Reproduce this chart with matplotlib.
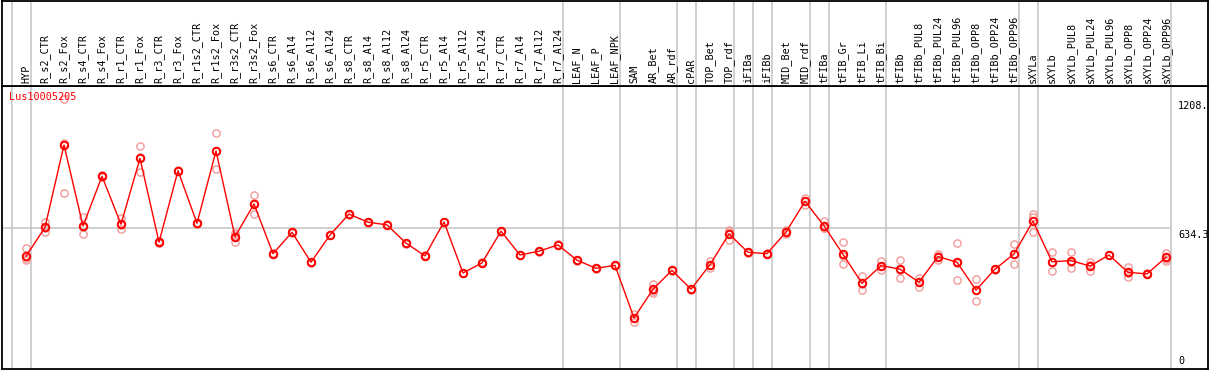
import matplotlib

matplotlib.use("Agg")
import matplotlib.pyplot as plt
import matplotlib.transforms as mtransforms

plt.rcParams["font.family"] = ["DejaVu Sans Mono"]

W, H = 1209, 370

gene = "Lus10005205"

samples = [
    "HYP", "R_s2_CTR", "R_s2_Fox", "R_s4_CTR", "R_s4_Fox", "R_r1_CTR", "R_r1_Fox",
    "R_r3_CTR", "R_r3_Fox", "R_r1s2_CTR", "R_r1s2_Fox", "R_r3s2_CTR", "R_r3s2_Fox",
    "R_s6_CTR", "R_s6_Al4", "R_s6_Al12", "R_s6_Al24", "R_s8_CTR", "R_s8_Al4",
    "R_s8_Al12", "R_s8_Al24", "R_r5_CTR", "R_r5_Al4", "R_r5_Al12", "R_r5_Al24",
    "R_r7_CTR", "R_r7_Al4", "R_r7_Al12", "R_r7_Al24", "LEAF_N", "LEAF_P", "LEAF_NPK",
    "SAM", "AR_Bet", "AR_rdf", "cPAR", "TOP_Bet", "TOP_rdf", "iFIBa", "iFIBb",
    "MID_Bet", "MID_rdf", "tFIBa", "tFIB_Gr", "tFIB_Li", "tFIB_Bi", "tFIBb",
    "tFIBb_PUL8", "tFIBb_PUL24", "tFIBb_PUL96", "tFIBb_OPP8", "tFIBb_OPP24",
    "tFIBb_OPP96", "sXYLa", "sXYLb", "sXYLb_PUL8", "sXYLb_PUL24", "sXYLb_PUL96",
    "sXYLb_OPP8", "sXYLb_OPP24", "sXYLb_OPP96",
]

means = [
    508, 637, 1003, 643, 864, 651, 944, 571, 889, 655, 977, 595, 741,
    520, 615, 482, 603, 696, 660, 648, 567, 510, 661, 434, 479,
    620, 514, 531, 559, 491, 455, 468,
    234, 362, 446, 362, 471, 608, 526, 520, 616, 753,
    644, 517, 388, 467, 451, 393, 507, 482, 358, 451, 519,
    665, 484, 489, 465, 514, 437, 430, 504,
]

replicates = [
    [544, 499, 492], [660, 618, 634], [1208, 1012, 788], [684, 606, 638],
    [868, 860, 864], [677, 628, 646], [999, 885, 949], [578, 566, 569],
    [892, 886, 889], [658, 652, 655], [1057, 895, 978], [611, 573, 602],
    [781, 696, 745], [522, 518, 520], [617, 613, 615], [484, 480, 482],
    [605, 601, 603], [698, 694, 696], [662, 658, 660], [650, 646, 648],
    [569, 565, 567], [512, 508, 510], [663, 659, 661], [436, 432, 434],
    [481, 477, 479], [622, 618, 620], [516, 512, 514], [533, 529, 531],
    [561, 557, 559], [493, 489, 491], [457, 453, 455], [470, 466, 468],
    [252, 215, 235], [384, 345, 356], [448, 444, 446], [364, 360, 362],
    [487, 458, 468], [625, 581, 617], [528, 524, 526], [522, 518, 520],
    [625, 606, 618], [769, 736, 754], [665, 636, 632], [571, 473, 508],
    [421, 358, 386], [489, 447, 463], [492, 411, 449], [411, 373, 394],
    [517, 492, 511], [566, 402, 477], [406, 310, 360], [453, 449, 451],
    [563, 474, 518], [695, 684, 615], [526, 444, 483], [526, 455, 485],
    [483, 443, 470], [516, 512, 514], [462, 415, 434], [432, 428, 430],
    [524, 489, 498],
]

# last sample index of each block (vertical separators)
group_ends = [-1, 0, 28, 31, 34, 35, 37, 38, 39, 41, 42, 45, 52, 53, 60]

ref_value = 634.3
ytick_vals = [1208, 634.3]
ytick_labels = ["1208.", "634.3"]


def px_x(p):
    return (p - 26) / 19.0


def px_v(p):
    return (370.6 - p) * 4.447


fig = plt.figure(figsize=(W / 100, H / 100), dpi=100)
fig.patch.set_facecolor("white")

left, right = 1.5, 1207.5
top, sep, bottom = 0.75, 85.5, 369.0

ax = fig.add_axes([left / W, (H - bottom) / H, (right - left) / W, (bottom - sep) / H])
axh = fig.add_axes([left / W, (H - sep) / H, (right - left) / W, (sep - top) / H])

for a in (ax, axh):
    a.set_xlim(px_x(left), px_x(right))
    a.set_xticks([])
    a.set_yticks([])
    for s in a.spines.values():
        s.set_color("black")
        s.set_linewidth(1.3)
    for g in group_ends:
        a.axvline(g + 0.24, color="#c4c4c4", lw=1.1, zorder=1)

ax.set_ylim(px_v(bottom), px_v(sep))
axh.set_ylim(0, 1)

# reference line
ax.hlines(ref_value, px_x(left), group_ends[-1] + 0.24, color="#c4c4c4", lw=1.1, zorder=1)

xs = list(range(len(samples)))

# replicates
for i, reps in enumerate(replicates):
    ax.plot([i] * len(reps), reps, linestyle="none", marker="o", ms=5.2,
            mfc="none", mec="#f09a9a", mew=1.0, zorder=2)

ax.plot(xs, means, color="red", lw=1.0, zorder=3)
ax.plot(xs, means, linestyle="none", marker="o", ms=5.4, mfc="none",
        mec="red", mew=1.4, zorder=4)

# sample labels
trans = mtransforms.blended_transform_factory(axh.transData, axh.transAxes)
for i, lab in enumerate(samples):
    axh.text(i, 0.025, lab, rotation=90, ha="center", va="bottom",
             fontsize=7.3, color="black", transform=trans)

ax.text(8.0 / (right - left), 1 - 6.5 / (bottom - sep), gene, transform=ax.transAxes,
        ha="left", va="top", fontsize=7.3, color="red")

xlab = px_x(1178)
for v, lab in zip(ytick_vals, ytick_labels):
    ax.text(xlab, v - 8, lab, ha="left", va="top", fontsize=7.3, color="black")
ax.text(xlab, px_v(366), "0", ha="left", va="bottom", fontsize=7.3, color="black")

fig.savefig("out.png", dpi=100, facecolor="white")
